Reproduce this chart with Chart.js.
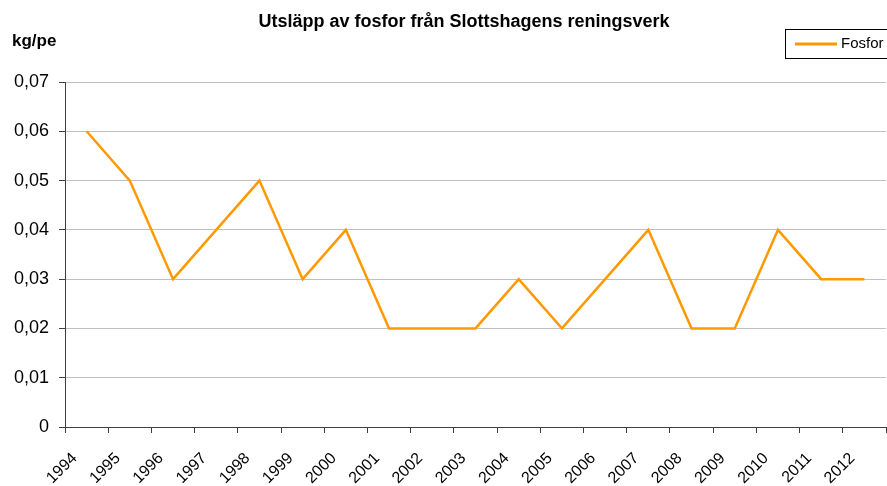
<!DOCTYPE html>
<html>
<head>
<meta charset="utf-8">
<title>Utsläpp av fosfor</title>
<script src="https://cdn.jsdelivr.net/npm/chart.js@4.4.1/dist/chart.umd.min.js"></script>
<style>
  html, body { margin: 0; padding: 0; background: #fff; }
  #wrap { width: 887px; height: 486px; }
</style>
</head>
<body>
<div id="wrap"><canvas id="chart" width="887" height="486"></canvas></div>
<script>
// Chart data
const years = ['1994', '1995', '1996', '1997', '1998', '1999', '2000', '2001', '2002', '2003',
  '2004', '2005', '2006', '2007', '2008', '2009', '2010', '2011', '2012'];
const fosfor = [0.06, 0.05, 0.03, 0.04, 0.05, 0.03, 0.04, 0.02, 0.02, 0.02,
  0.03, 0.02, 0.03, 0.04, 0.02, 0.02, 0.04, 0.03, 0.03];
const yTicks = [0, 0.01, 0.02, 0.03, 0.04, 0.05, 0.06, 0.07];

const titleText = 'Utsläpp av fosfor från Slottshagens reningsverk';
const unitText = 'kg/pe';
const seriesName = 'Fosfor';
const lineColor = '#ff9900';
const fontFamily = 'Arial, "Liberation Sans", sans-serif';

// Draws title, unit label and boxed legend on top of the chart
const decorations = {
  id: 'decorations',
  afterDraw(chart) {
    const ctx = chart.ctx;
    ctx.save();
    ctx.fillStyle = '#000';
    ctx.textBaseline = 'middle';

    ctx.font = 'bold 18px ' + fontFamily;
    ctx.textAlign = 'center';
    ctx.fillText(titleText, 464, 22);

    ctx.font = 'bold 17px ' + fontFamily;
    ctx.textAlign = 'left';
    ctx.fillText(unitText, 12, 41);

    // legend box
    ctx.strokeStyle = '#000';
    ctx.lineWidth = 1;
    ctx.strokeRect(785.5, 29.5, 110, 29);
    ctx.strokeStyle = lineColor;
    ctx.lineWidth = 3;
    ctx.beginPath();
    ctx.moveTo(795, 44);
    ctx.lineTo(837, 44);
    ctx.stroke();
    ctx.font = '15px ' + fontFamily;
    ctx.fillText(seriesName, 841, 44);
    ctx.restore();
  }
};

new Chart(document.getElementById('chart'), {
  type: 'line',
  data: {
    labels: years,
    datasets: [{
      label: seriesName,
      data: fosfor,
      borderColor: lineColor,
      backgroundColor: lineColor,
      borderWidth: 2.5,
      pointRadius: 0,
      tension: 0,
      fill: false
    }]
  },
  options: {
    responsive: false,
    animation: false,
    layout: { padding: { top: 82, right: 1, left: 0, bottom: 0 } },
    plugins: {
      legend: { display: false },
      title: { display: false },
      tooltip: { enabled: false }
    },
    scales: {
      x: {
        type: 'category',
        offset: true,
        afterFit(scale) {
          scale.height = 59;
          // rotated labels would otherwise push the right edge in
          scale.paddingLeft = 0;
          scale.paddingRight = 0;
        },
        grid: {
          offset: true,
          drawOnChartArea: false,
          drawTicks: true,
          tickLength: 6,
          tickColor: '#404040'
        },
        border: { color: '#404040', width: 1 },
        ticks: {
          autoSkip: false,
          minRotation: 45,
          maxRotation: 45,
          labelOffset: -12,
          padding: 16,
          color: '#000',
          font: { family: fontFamily, size: 16 }
        }
      },
      y: {
        min: 0,
        max: 0.07,
        afterFit(scale) { scale.width = 65; },
        afterBuildTicks(scale) { scale.ticks = yTicks.map(v => ({ value: v })); },
        grid: {
          color: '#c0c0c0',
          tickColor: '#404040',
          tickLength: 6,
          drawTicks: true
        },
        border: { color: '#404040', width: 1 },
        ticks: {
          padding: 10,
          color: '#000',
          font: { family: fontFamily, size: 18 },
          callback: v => v === 0 ? '0' : v.toFixed(2).replace('.', ',')
        }
      }
    }
  },
  plugins: [decorations]
});
</script>
</body>
</html>
